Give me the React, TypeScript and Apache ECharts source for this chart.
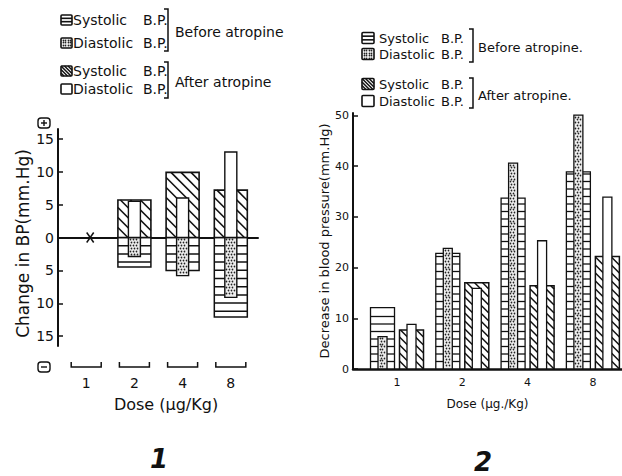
import React, { useEffect, useRef } from 'react';
import * as echarts from 'echarts';

// ---------- data ----------
const doses = ['1', '2', '4', '8'];

// Figure 1: change in BP (mm Hg); negative = fall, positive = rise
const p1SystolicBefore = [0, -4.5, -5.0, -12.1];
const p1DiastolicBefore = [0, -2.9, -5.8, -9.1];
const p1SystolicAfter = [0, 5.7, 9.9, 7.2];
const p1DiastolicAfter = [0, 5.5, 6.0, 13.0];
const p1Ticks = [-15, -10, -5, 0, 5, 10, 15];

// Figure 2: decrease in blood pressure (mm Hg)
const p2SystolicBefore = [12.1, 22.8, 33.7, 38.9];
const p2DiastolicBefore = [6.4, 23.8, 40.6, 50.1];
const p2SystolicAfter = [7.7, 17.0, 16.4, 22.2];
const p2DiastolicAfter = [8.8, 15.9, 25.3, 33.9];
const p2Ticks = [0, 10, 20, 30, 40, 50];

const legendNames = ['Systolic', 'Diastolic'];
const legendBP = 'B.P.';

const INK = '#111';
const FONT = 'DejaVu Sans';

type Pattern = 'stripes' | 'dots' | 'hatch' | 'plain';

function toData(arr: number[]) {
  return arr.map((v, i) => [i, v]);
}

function makeBarRenderer(pattern: Pattern, widthPx: number, shiftPx: number, spacing: number, lineW: number) {
  return function (_params: any, api: any) {
    const v = api.value(1) as number;
    if (!v) return null;
    const i = api.value(0) as number;
    const b = api.coord([i, 0]);
    const t = api.coord([i, v]);
    const cx = b[0] + shiftPx;
    const x0 = cx - widthPx / 2;
    const x1 = cx + widthPx / 2;
    const yA = Math.min(b[1], t[1]);
    const yB = Math.max(b[1], t[1]);
    const h = yB - yA;
    const children: any[] = [
      { type: 'rect', shape: { x: x0, y: yA, width: widthPx, height: h }, style: { fill: pattern === 'dots' ? '#ececec' : '#fff' } },
    ];
    if (pattern === 'stripes') {
      const dir = v > 0 ? -1 : 1;
      for (let k = 1; k < 500; k++) {
        const y = b[1] + dir * k * spacing;
        if (!(y > yA + 1.5 && y < yB - 1.5)) break;
        children.push({ type: 'line', shape: { x1: x0, y1: y, x2: x1, y2: y }, style: { stroke: INK, lineWidth: lineW } });
      }
    } else if (pattern === 'hatch') {
      const cStart = yA - x1;
      const cEnd = yB - x0;
      const anchor = b[1] - x0;
      let c = anchor - Math.ceil((anchor - cStart) / spacing) * spacing;
      for (; c <= cEnd; c += spacing) {
        const xs = Math.max(x0, yA - c);
        const xe = Math.min(x1, yB - c);
        if (xe - xs > 1) {
          children.push({ type: 'line', shape: { x1: xs, y1: xs + c, x2: xe, y2: xe + c }, style: { stroke: INK, lineWidth: lineW } });
        }
      }
    } else if (pattern === 'dots') {
      let row = 0;
      for (let y = yA + 2; y < yB - 1.5; y += spacing, row++) {
        const off = (row % 2) * (spacing / 2);
        for (let x = x0 + 2 + off; x < x1 - 1.5; x += spacing) {
          children.push({
            type: 'circle',
            shape: { cx: Math.floor(x) + 0.5, cy: Math.floor(y) + 0.5, r: 0.8 },
            style: { fill: '#222' },
          });
        }
      }
    }
    children.push({ type: 'rect', shape: { x: x0, y: yA, width: widthPx, height: h }, style: { fill: 'none', stroke: INK, lineWidth: lineW } });
    return { type: 'group', children };
  };
}

function legendIcon(pattern: Pattern, x: number, y: number, w: number, h: number): any[] {
  const els: any[] = [];
  if (pattern === 'stripes') {
    els.push({ type: 'line', shape: { x1: x, y1: y + h / 3, x2: x + w, y2: y + h / 3 }, style: { stroke: INK, lineWidth: 1.6 } });
    els.push({ type: 'line', shape: { x1: x, y1: y + (2 * h) / 3, x2: x + w, y2: y + (2 * h) / 3 }, style: { stroke: INK, lineWidth: 1.6 } });
  } else if (pattern === 'hatch') {
    for (let k = -2; k <= 2; k++) {
      const c = y - x + k * 3.5;
      const xs = Math.max(x, y - c);
      const xe = Math.min(x + w, y + h - c);
      if (xe - xs > 0.5) els.push({ type: 'line', shape: { x1: xs, y1: xs + c, x2: xe, y2: xe + c }, style: { stroke: INK, lineWidth: 1.5 } });
    }
  } else if (pattern === 'dots') {
    els.push({ type: 'rect', shape: { x, y, width: w, height: h }, style: { fill: '#ececec' } });
    for (let yy = y + 2; yy < y + h - 1; yy += 2.5) {
      for (let xx = x + 2; xx < x + w - 1; xx += 2.5) {
        els.push({ type: 'circle', shape: { cx: Math.floor(xx) + 0.5, cy: Math.floor(yy) + 0.5, r: 0.8 }, style: { fill: '#222' } });
      }
    }
  }
  els.push({ type: 'rect', shape: { x, y, width: w, height: h, r: 1 }, style: { fill: 'none', stroke: INK, lineWidth: 1.6 } });
  return els;
}

function txt(text: string, x: number, y: number, size: number, align = 'left', extra: any = {}): any {
  return {
    type: 'text',
    x,
    y,
    style: {
      text,
      fill: INK,
      fontSize: size,
      fontFamily: FONT,
      align,
      verticalAlign: 'middle',
      textAlign: align,
      textVerticalAlign: 'middle',
      ...extra,
    },
  };
}

function bracket(x: number, y1: number, y2: number): any {
  return {
    type: 'polyline',
    shape: { points: [[x - 4, y1], [x, y1], [x, y2], [x - 4, y2]] },
    style: { stroke: INK, lineWidth: 1.5, fill: 'none' },
  };
}

function buildLegend(
  rows: number[], iconX: number, iconW: number, iconH: number, nameX: number, bpX: number,
  brX: number, br1: [number, number], br2: [number, number], groupX: number, groupY: [number, number],
  size: number, groupLabels: [string, string]
): any[] {
  const pats: Pattern[] = ['stripes', 'dots', 'hatch', 'plain'];
  const els: any[] = [];
  rows.forEach((ry, k) => {
    els.push(...legendIcon(pats[k], iconX, ry - iconH / 2, iconW, iconH));
    els.push(txt(legendNames[k % 2], nameX, ry, size));
    els.push(txt(legendBP, bpX, ry, size));
  });
  els.push(bracket(brX, br1[0], br1[1]));
  els.push(bracket(brX, br2[0], br2[1]));
  els.push(txt(groupLabels[0], groupX, groupY[0], size));
  els.push(txt(groupLabels[1], groupX, groupY[1], size));
  return els;
}

function signBox(cx: number, cy: number, plus: boolean): any[] {
  const els: any[] = [
    { type: 'rect', shape: { x: cx - 6, y: cy - 5, width: 12, height: 10, r: 3 }, style: { fill: 'none', stroke: INK, lineWidth: 1.4 } },
    { type: 'line', shape: { x1: cx - 3, y1: cy, x2: cx + 3, y2: cy }, style: { stroke: INK, lineWidth: 1.4 } },
  ];
  if (plus) els.push({ type: 'line', shape: { x1: cx, y1: cy - 3, x2: cx, y2: cy + 3 }, style: { stroke: INK, lineWidth: 1.4 } });
  return els;
}

export default function App() {
  const ref = useRef<HTMLDivElement>(null);

  useEffect(() => {
    if (!ref.current) return;
    const chart = echarts.init(ref.current, undefined, { renderer: 'svg' });

    // dose groups with no change at all (marked with an X)
    const noChange = doses
      .map((_, i) => i)
      .filter((i) => !p1SystolicBefore[i] && !p1DiastolicBefore[i] && !p1SystolicAfter[i] && !p1DiastolicAfter[i])
      .map((i) => [i, 0]);

    const p1Min = -0.585;
    const p1Max = 3.564;
    const p2Min = -0.674;
    const p2Max = 3.446;

    const baseLabel = { color: INK, fontFamily: FONT };

    const option: any = {
      animation: false,
      backgroundColor: '#fff',
      grid: [
        { left: 58, top: 129, width: 200, height: 217 },
        { left: 353, top: 113, width: 269, height: 256 },
      ],
      xAxis: [
        {
          gridIndex: 0, type: 'value', min: p1Min, max: p1Max,
          axisLine: { show: true, onZero: true, lineStyle: { color: INK, width: 2 } },
          axisTick: { show: false }, axisLabel: { show: false }, splitLine: { show: false },
        },
        {
          gridIndex: 0, type: 'value', position: 'bottom', min: p1Min, max: p1Max,
          axisLine: { show: false, onZero: false }, axisTick: { show: false }, splitLine: { show: false },
          axisLabel: { ...baseLabel, fontSize: 14, margin: 30, customValues: doses.map((_, i) => i), formatter: (v: number) => doses[Math.round(v)] ?? '' },
          name: 'Dose (μg/Kg)', nameLocation: 'middle', nameGap: 50,
          nameTextStyle: { ...baseLabel, fontSize: 16, padding: [0, 0, 0, 16] },
        },
        {
          gridIndex: 1, type: 'value', min: p2Min, max: p2Max,
          axisLine: { show: true, onZero: false, lineStyle: { color: INK, width: 2.5 } },
          axisTick: { show: false }, splitLine: { show: false },
          axisLabel: { ...baseLabel, fontSize: 11, margin: 8, customValues: doses.map((_, i) => i), formatter: (v: number) => doses[Math.round(v)] ?? '' },
          name: 'Dose (μg./Kg)', nameLocation: 'middle', nameGap: 29,
          nameTextStyle: { ...baseLabel, fontSize: 12 },
        },
      ],
      yAxis: [
        {
          gridIndex: 0, type: 'value', min: -16.5, max: 16.5,
          axisLine: { show: true, onZero: false, lineStyle: { color: INK, width: 2 } },
          axisTick: { show: true, inside: true, length: 5, customValues: p1Ticks, lineStyle: { color: INK, width: 1.5 } },
          axisLabel: { ...baseLabel, fontSize: 14, margin: 4, customValues: p1Ticks, formatter: (v: number) => String(Math.abs(v)) },
          splitLine: { show: false },
          name: 'Change in BP(mm.Hg)', nameLocation: 'middle', nameGap: 27,
          nameTextStyle: { ...baseLabel, fontSize: 17, padding: [0, 12, 0, 0] },
        },
        {
          gridIndex: 1, type: 'value', min: 0, max: 50.5,
          axisLine: { show: true, onZero: false, lineStyle: { color: INK, width: 2 } },
          axisTick: { show: true, inside: true, length: 5, customValues: p2Ticks, lineStyle: { color: INK, width: 1.5 } },
          axisLabel: { ...baseLabel, fontSize: 11, margin: 4, customValues: p2Ticks },
          splitLine: { show: false },
          name: 'Decrease in blood pressure(mm.Hg)', nameLocation: 'middle', nameGap: 21,
          nameTextStyle: { ...baseLabel, fontSize: 13 },
        },
      ],
      series: [
        // Figure 1
        { type: 'custom', name: 'Systolic B.P. before atropine (1)', xAxisIndex: 0, yAxisIndex: 0, clip: false, encode: { x: 0, y: 1 },
          renderItem: makeBarRenderer('stripes', 33, 0, 8.2, 1.5), data: toData(p1SystolicBefore) },
        { type: 'custom', name: 'Systolic B.P. after atropine (1)', xAxisIndex: 0, yAxisIndex: 0, clip: false, encode: { x: 0, y: 1 },
          renderItem: makeBarRenderer('hatch', 33, 0, 10, 1.6), data: toData(p1SystolicAfter) },
        { type: 'custom', name: 'Diastolic B.P. before atropine (1)', xAxisIndex: 0, yAxisIndex: 0, clip: false, encode: { x: 0, y: 1 },
          renderItem: makeBarRenderer('dots', 12, 0, 3, 1.4), data: toData(p1DiastolicBefore) },
        { type: 'custom', name: 'Diastolic B.P. after atropine (1)', xAxisIndex: 0, yAxisIndex: 0, clip: false, encode: { x: 0, y: 1 },
          renderItem: makeBarRenderer('plain', 12, 0, 0, 1.4), data: toData(p1DiastolicAfter) },
        { type: 'custom', name: 'No change', xAxisIndex: 0, yAxisIndex: 0, clip: false, encode: { x: 0, y: 1 },
          renderItem: (_p: any, api: any) => {
            const c = api.coord([api.value(0), api.value(1)]);
            const x = c[0] + 4;
            const y = c[1];
            return { type: 'group', children: [
              { type: 'line', shape: { x1: x - 3.5, y1: y - 5, x2: x + 3.5, y2: y + 5 }, style: { stroke: INK, lineWidth: 1.5 } },
              { type: 'line', shape: { x1: x + 3.5, y1: y - 5, x2: x - 3.5, y2: y + 5 }, style: { stroke: INK, lineWidth: 1.5 } },
            ] };
          },
          data: noChange },
        { type: 'custom', name: 'Dose brackets', xAxisIndex: 0, yAxisIndex: 0, clip: false, encode: { x: 0 }, silent: true,
          renderItem: (params: any, api: any) => {
            const c = api.coord([api.value(0), 0]);
            const cs = params.coordSys;
            const y = cs.y + cs.height + 21;
            const w = 30;
            return { type: 'polyline', shape: { points: [[c[0] - w / 2, y - 5], [c[0] - w / 2, y], [c[0] + w / 2, y], [c[0] + w / 2, y - 5]] },
              style: { stroke: INK, lineWidth: 1.5, fill: 'none' } };
          },
          data: doses.map((_, i) => [i, 0]) },
        // Figure 2
        { type: 'custom', name: 'Systolic B.P. before atropine (2)', xAxisIndex: 2, yAxisIndex: 1, clip: false, encode: { x: 0, y: 1 },
          renderItem: makeBarRenderer('stripes', 24, -14.5, 7.5, 1.3), data: toData(p2SystolicBefore) },
        { type: 'custom', name: 'Diastolic B.P. before atropine (2)', xAxisIndex: 2, yAxisIndex: 1, clip: false, encode: { x: 0, y: 1 },
          renderItem: makeBarRenderer('dots', 9, -14.5, 2.8, 1.3), data: toData(p2DiastolicBefore) },
        { type: 'custom', name: 'Systolic B.P. after atropine (2)', xAxisIndex: 2, yAxisIndex: 1, clip: false, encode: { x: 0, y: 1 },
          renderItem: makeBarRenderer('hatch', 24, 14.5, 8, 1.5), data: toData(p2SystolicAfter) },
        { type: 'custom', name: 'Diastolic B.P. after atropine (2)', xAxisIndex: 2, yAxisIndex: 1, clip: false, encode: { x: 0, y: 1 },
          renderItem: makeBarRenderer('plain', 9, 14.5, 0, 1.3), data: toData(p2DiastolicAfter) },
      ],
      graphic: [
        ...buildLegend([20, 43, 71, 89], 61, 11, 10, 73, 143, 168, [9, 51], [62, 98], 175, [32, 82], 14,
          ['Before atropine', 'After atropine']),
        ...buildLegend([38, 54, 84, 101], 362, 12, 11, 379, 441, 473, [29, 62], [78, 108], 478, [47, 95], 13,
          ['Before atropine.', 'After atropine.']),
        ...signBox(44, 123, true),
        ...signBox(44, 367, false),
        txt('1', 159, 459, 26, 'center', { fontWeight: 'bold', fontStyle: 'italic' }),
        txt('2', 483, 462, 26, 'center', { fontWeight: 'bold', fontStyle: 'italic' }),
      ],
    };

    chart.setOption(option);
    return () => chart.dispose();
  }, []);

  return <div ref={ref} style={{ position: 'absolute', left: 0, top: 0, width: 622, height: 476 }} />;
}
